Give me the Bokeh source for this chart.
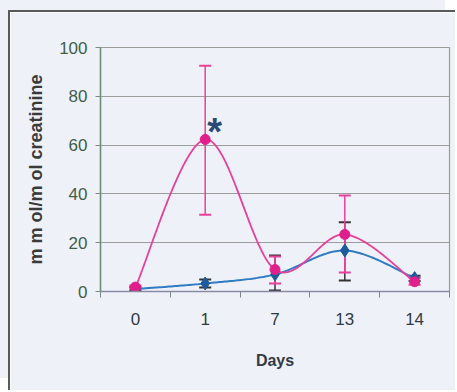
import numpy as np
from bokeh.plotting import figure
from bokeh.models import (FixedTicker, Range1d, Whisker, TeeHead, ColumnDataSource)
from bokeh.embed import file_html
from bokeh.resources import INLINE
from bokeh.core.properties import value

# ---- data ----
days = ["0", "1", "7", "13", "14"]
pink_mean = [1.8, 62.3, 9.0, 23.4, 4.0]
pink_upper = [2.5, 92.5, 14.3, 39.3, 5.5]
pink_lower = [1.0, 31.5, 3.3, 7.8, 2.8]
blue_mean = [1.0, 3.3, 7.0, 16.8, 5.5]
blue_upper = [1.8, 4.9, 14.8, 28.4, 6.5]
blue_lower = [0.4, 1.6, 0.4, 4.5, 4.3]
y_ticks = [0, 20, 40, 60, 80, 100]
y_label = "m m ol/m ol creatinine"
x_label = "Days"
star_text = "*"

BG = "#eef1f7"
PINK = "#e8409c"
PINK_M = "#e01e8c"
BLUE = "#2f7cc4"
BLUE_M = "#1c5c9c"
FONT = "Liberation Sans"

xpos = [i + 0.5 for i in range(len(days))]


def smooth(xs, ys, n=40):
    P = np.column_stack([xs, ys]).astype(float)
    P = np.vstack([P[0], P, P[-1]])
    out = []
    for i in range(1, len(P) - 2):
        p0, p1, p2, p3 = P[i - 1], P[i], P[i + 1], P[i + 2]
        c1 = p1 + (p2 - p0) / 6.0
        c2 = p2 - (p3 - p1) / 6.0
        t = np.linspace(0, 1, n)[:, None]
        seg = (1 - t) ** 3 * p1 + 3 * (1 - t) ** 2 * t * c1 + 3 * (1 - t) * t ** 2 * c2 + t ** 3 * p2
        out.append(seg if i == 1 else seg[1:])
    return np.vstack(out)


p = figure(width=447, height=380, output_backend="svg", toolbar_location=None,
           x_range=Range1d(0, len(days)), y_range=Range1d(0, 100),
           min_border_left=90, min_border_right=8, min_border_top=35, min_border_bottom=101,
           background_fill_color=BG, border_fill_color=BG)

# outer frame (left and top edges visible in the reference)
p.styles = {"border-left": "2px solid #5a5a5a", "border-top": "2px solid #5a5a5a",
            "margin-left": "8px", "margin-top": "10px",
            "box-shadow": "-10px -12px 0 0 %s" % BG}

p.outline_line_color = "#9a9a9a"
p.outline_line_width = 1.2

# axes
p.xaxis.ticker = FixedTicker(ticks=xpos, minor_ticks=list(range(len(days) + 1)))
p.xaxis.major_label_overrides = {x: d for x, d in zip(xpos, days)}
p.xaxis.major_tick_line_color = None
p.xaxis.major_tick_out = 0
p.xaxis.major_tick_in = 0
p.xaxis.minor_tick_out = 6
p.xaxis.minor_tick_in = 0
p.xaxis.minor_tick_line_color = "#7a8a8a"
p.xaxis.axis_line_color = "#8a8aa4"
p.xaxis.axis_line_width = 1.5
p.xaxis.major_label_standoff = 15
p.xaxis.major_label_text_font = FONT
p.xaxis.major_label_text_font_size = "17px"
p.xaxis.major_label_text_color = "#2e3b48"
p.xaxis.axis_label = x_label
p.xaxis.axis_label_text_font = FONT
p.xaxis.axis_label_text_font_size = "16px"
p.xaxis.axis_label_text_font_style = "bold"
p.xaxis.axis_label_text_color = "#333a44"
p.xaxis.axis_label_standoff = 24

p.yaxis.ticker = FixedTicker(ticks=y_ticks)
p.yaxis.minor_tick_line_color = None
p.yaxis.major_tick_out = 5
p.yaxis.major_tick_in = 0
p.yaxis.major_tick_line_color = "#7a8f84"
p.yaxis.axis_line_color = "#6d8f7d"
p.yaxis.axis_line_width = 1.5
p.yaxis.major_label_standoff = 8
p.yaxis.major_label_text_font = FONT
p.yaxis.major_label_text_font_size = "17px"
p.yaxis.major_label_text_color = "#3e5e4a"
p.yaxis.axis_label = y_label
p.yaxis.axis_label_text_font = FONT
p.yaxis.axis_label_text_font_size = "18px"
p.yaxis.axis_label_text_font_style = "bold"
p.yaxis.axis_label_text_color = "#3a3a3a"
p.yaxis.axis_label_standoff = 10

p.xgrid.grid_line_color = None
p.ygrid.grid_line_color = "#9c9c9c"
p.ygrid.grid_line_width = 1.2

# blue series
bsrc = ColumnDataSource(dict(x=xpos, y=blue_mean, up=blue_upper, lo=blue_lower))
bc = smooth(xpos, blue_mean)
p.line(bc[:, 0], bc[:, 1], line_color=BLUE, line_width=2)
p.add_layout(Whisker(source=bsrc, base="x", upper="up", lower="lo", dimension="height",
                     line_color="#333333", line_width=1.5,
                     upper_head=TeeHead(size=12, line_color="#333333", line_width=2),
                     lower_head=TeeHead(size=12, line_color="#333333", line_width=2)))
p.scatter("x", "y", source=bsrc, marker="diamond", size=13, fill_color=BLUE_M, line_color=BLUE_M)

# pink series
psrc = ColumnDataSource(dict(x=xpos, y=pink_mean, up=pink_upper, lo=pink_lower))
pc = smooth(xpos, pink_mean)
p.line(pc[:, 0], pc[:, 1], line_color=PINK, line_width=1.8)
p.add_layout(Whisker(source=psrc, base="x", upper="up", lower="lo", dimension="height",
                     line_color=PINK, line_width=1.5,
                     upper_head=TeeHead(size=12, line_color=PINK, line_width=2),
                     lower_head=TeeHead(size=12, line_color=PINK, line_width=2)))
p.scatter("x", "y", source=psrc, marker="circle", size=10, fill_color=PINK_M, line_color=PINK_M)

# significance asterisk next to day-1 point
p.text(x=[xpos[1]], y=[pink_mean[1]], text=[star_text], x_offset=2, y_offset=-7,
       text_font=value(FONT), text_font_size="38px", text_font_style="bold",
       text_color="#2c4a78", text_baseline="middle", text_align="left")

html = file_html(p, INLINE)
html = html.replace("<body>", '<body style="background-color:%s;">' % BG, 1)
open("out.html", "w").write(html)
